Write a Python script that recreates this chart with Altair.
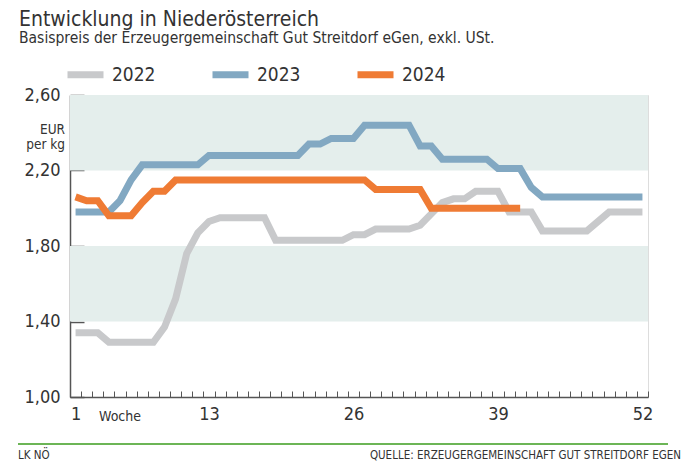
import altair as alt
import pandas as pd

FONT = "DejaVu Sans Condensed, Liberation Sans Narrow, Roboto, sans-serif"

weeks = list(range(1, 53))
p2022 = [1.34, 1.34, 1.34, 1.29, 1.29, 1.29, 1.29, 1.29, 1.37, 1.52,
         1.76, 1.87, 1.93, 1.95, 1.95, 1.95, 1.95, 1.95, 1.83, 1.83,
         1.83, 1.83, 1.83, 1.83, 1.83, 1.86, 1.86, 1.89, 1.89, 1.89,
         1.89, 1.91, 1.97, 2.03, 2.05, 2.05, 2.09, 2.09, 2.09, 1.98,
         1.98, 1.98, 1.88, 1.88, 1.88, 1.88, 1.88, 1.93, 1.98, 1.98,
         1.98, 1.98]
p2023 = [1.98, 1.98, 1.98, 1.98, 2.04, 2.15, 2.23, 2.23, 2.23, 2.23,
         2.23, 2.23, 2.28, 2.28, 2.28, 2.28, 2.28, 2.28, 2.28, 2.28,
         2.28, 2.34, 2.34, 2.37, 2.37, 2.37, 2.44, 2.44, 2.44, 2.44,
         2.44, 2.33, 2.33, 2.26, 2.26, 2.26, 2.26, 2.26, 2.21, 2.21,
         2.21, 2.11, 2.06, 2.06, 2.06, 2.06, 2.06, 2.06, 2.06, 2.06,
         2.06, 2.06]
p2024 = [2.06, 2.04, 2.04, 1.96, 1.96, 1.96, 2.03, 2.09, 2.09, 2.15,
         2.15, 2.15, 2.15, 2.15, 2.15, 2.15, 2.15, 2.15, 2.15, 2.15,
         2.15, 2.15, 2.15, 2.15, 2.15, 2.15, 2.15, 2.10, 2.10, 2.10,
         2.10, 2.10, 2.00, 2.00, 2.00, 2.00, 2.00, 2.00, 2.00, 2.00,
         2.00]

years = ["2022", "2023", "2024"]
colors = ["#c8c9cb", "#82a8c2", "#ef7b34"]
band_lo = [1.4, 2.2]
band_hi = [1.8, 2.6]
y_ticks = [1.0, 1.4, 1.8, 2.2, 2.6]
x_labels = [1, 13, 26, 39, 52]
week_bounds = [w - 0.5 for w in range(1, 54)]

rows = []
for yr, vals in zip(years, [p2022, p2023, p2024]):
    for w, v in zip(weeks, vals):
        rows.append({"year": yr, "week": w, "price": v})
df = pd.DataFrame(rows)
bands = pd.DataFrame({"lo": band_lo, "hi": band_hi})

W, H = 578, 302
xscale = alt.Scale(domain=[0.5, 52.5], nice=False, zero=False)
yscale = alt.Scale(domain=[1.0, 2.6], nice=False, zero=False)

band_layer = alt.Chart(bands).mark_rect(color="#e4eeec").encode(
    y=alt.Y("lo:Q", scale=yscale, axis=None),
    y2="hi:Q",
    x=alt.value(0),
    x2=alt.value(W),
)

lines = alt.Chart(df).mark_line(strokeWidth=7, strokeJoin="miter").encode(
    x=alt.X("week:Q", scale=xscale,
            axis=alt.Axis(orient="bottom", values=x_labels, ticks=False, tickSize=0,
                          grid=False, domainColor="#555", domainWidth=1.5,
                          labelFontSize=18, labelPadding=8, labelColor="#333",
                          labelFont=FONT, title=None)),
    y=alt.Y("price:Q", scale=yscale,
            axis=alt.Axis(orient="left", values=y_ticks, ticks=False, tickSize=0,
                          grid=False, domainColor="#555", domainWidth=1.5,
                          labelExpr="replace(format(datum.value, '.2f'), '.', ',')",
                          labelFontSize=18, labelPadding=10, labelColor="#333",
                          labelFont=FONT, title=None)),
    color=alt.Color("year:N",
                    scale=alt.Scale(domain=years, range=colors),
                    legend=alt.Legend(orient="none", legendX=-6, legendY=-42,
                                      direction="horizontal", title=None,
                                      symbolType="stroke", symbolSize=1296,
                                      symbolStrokeWidth=7, labelFontSize=19,
                                      labelOffset=5, columnPadding=42, padding=0,
                                      labelColor="#333", labelFont=FONT)),
    order=alt.Order("week:Q"),
)

ticks = alt.Chart(df).mark_point(opacity=0).encode(
    x=alt.X("week:Q", scale=xscale,
            axis=alt.Axis(orient="bottom", offset=-6, values=week_bounds,
                          tickSize=6, tickColor="#555", tickWidth=1,
                          domain=False, labels=False, grid=False, title=None)),
    y=alt.Y("price:Q", scale=yscale,
            axis=alt.Axis(orient="left", offset=-14, values=y_ticks,
                          tickSize=14, tickColor="#555", tickWidth=1.5,
                          domain=False, labels=False, grid=False, title=None)),
)


def txt(s, x, y, size, align="left", color="#333"):
    return alt.Chart(pd.DataFrame({"t": [s]})).mark_text(
        align=align, baseline="alphabetic", fontSize=size, font=FONT, color=color
    ).encode(text="t:N", x=alt.value(x), y=alt.value(y))


title = txt("Entwicklung in Niederösterreich", -51, -69, 21)
subtitle = txt("Basispreis der Erzeugergemeinschaft Gut Streitdorf eGen, exkl. USt.", -51, -52, 15.5)
eur = txt("EUR", -5, 39, 13.5, align="right")
perkg = txt("per kg", -5, 54, 13.5, align="right")
woche = txt("Woche", 29, 326, 14)
lk = txt("LK NÖ", -52, 364, 11.5)
quelle = txt("QUELLE: ERZEUGERGEMEINSCHAFT GUT STREITDORF EGEN", 611, 364, 11.5, align="right")

green = alt.Chart(pd.DataFrame({"a": [0]})).mark_rule(color="#6cb556", strokeWidth=2).encode(
    x=alt.value(-52), x2=alt.value(598), y=alt.value(349)
)

chart = alt.layer(
    band_layer, lines, ticks, title, subtitle, eur, perkg, woche, green, lk, quelle
).resolve_axis(x="independent", y="independent").properties(
    width=W, height=H,
    autosize=alt.AutoSizeParams(type="none"),
    padding={"left": 62, "top": 87, "right": 33, "bottom": 68},
).configure_view(stroke=None).configure(font=FONT)

chart.save("out.html", embed_options={"renderer": "svg", "actions": False})
